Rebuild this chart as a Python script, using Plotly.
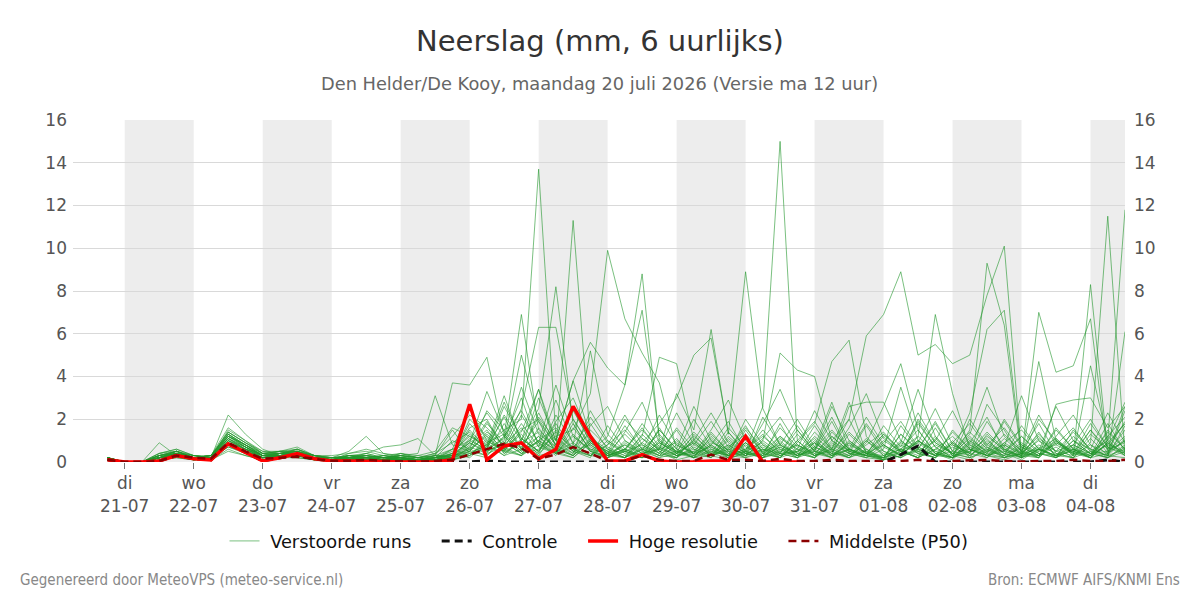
import pandas as pd
import plotly.graph_objects as go

# ---------------- data ----------------
times = pd.date_range("2026-07-20 18:00", periods=60, freq="6h")

tick_dates = ["2026-07-21", "2026-07-22", "2026-07-23", "2026-07-24", "2026-07-25",
              "2026-07-26", "2026-07-27", "2026-07-28", "2026-07-29", "2026-07-30",
              "2026-07-31", "2026-08-01", "2026-08-02", "2026-08-03", "2026-08-04"]
tick_labels = ["di<br>21-07", "wo<br>22-07", "do<br>23-07", "vr<br>24-07", "za<br>25-07",
               "zo<br>26-07", "ma<br>27-07", "di<br>28-07", "wo<br>29-07", "do<br>30-07",
               "vr<br>31-07", "za<br>01-08", "zo<br>02-08", "ma<br>03-08", "di<br>04-08"]
shaded_days = ["2026-07-21", "2026-07-23", "2026-07-25", "2026-07-27",
               "2026-07-29", "2026-07-31", "2026-08-02", "2026-08-04"]
y_ticks = [0, 2, 4, 6, 8, 10, 12, 14, 16]

hres = [0.1, 0.0, 0.0, 0.05, 0.3, 0.15, 0.1, 0.85, 0.45, 0.05, 0.2, 0.4, 0.15, 0.05, 0.05, 0.05, 0.02, 0.0, 0.0, 0.0,
        0.1, 2.7, 0.1, 0.75, 0.9, 0.15, 0.6, 2.6, 1.2, 0.05, 0.05, 0.35, 0.05, 0.0, 0.0, 0.05, 0.05, 1.2, 0.0, 0.0,
        0.0]

p50 = [0.1, 0.0, 0.0, 0.05, 0.3, 0.2, 0.15, 0.9, 0.5, 0.15, 0.2, 0.25, 0.15, 0.05, 0.05, 0.1, 0.05, 0.02, 0.02, 0.05,
       0.1, 0.35, 0.6, 0.85, 0.65, 0.15, 0.35, 0.7, 0.4, 0.05, 0.05, 0.3, 0.1, 0.05, 0.05, 0.35, 0.1, 0.1, 0.05, 0.15,
       0.05, 0.05, 0.1, 0.05, 0.05, 0.02, 0.05, 0.1, 0.02, 0.05, 0.05, 0.1, 0.05, 0.02, 0.05, 0.05, 0.1, 0.05, 0.05, 0.1]

controle = [0.1, 0.0, 0.0, 0.05, 0.3, 0.15, 0.1, 0.85, 0.45, 0.05, 0.2, 0.3, 0.15, 0.05, 0.05, 0.05, 0.02, 0.0, 0.0, 0.0,
            0.0, 0.0, 0.05, 0.0, 0.0, 0.0, 0.0, 0.0, 0.0, 0.0, 0.0, 0.0, 0.0, 0.0, 0.0, 0.0, 0.0, 0.0, 0.0, 0.0,
            0.0, 0.0, 0.0, 0.0, 0.0, 0.0, 0.35, 0.75, 0.0, 0.0, 0.0, 0.0, 0.0, 0.0, 0.0, 0.0, 0.0, 0.0, 0.1, 0.0]

m01 = [0.2, 0.0, 0.0, 0.2, 0.4, 0.2, 0.2, 1.1, 0.7, 0.3, 0.3, 0.5, 0.2, 0.1, 0.2, 0.1, 0.1, 0.1, 0.0, 0.2,
       0.5, 1.2, 0.8, 1.5, 2.0, 13.7, 1.2, 0.5, 0.3, 0.8, 1.5, 0.6, 0.2, 0.4, 1.0, 0.3, 0.1, 0.5, 0.2, 0.6,
       0.3, 1.0, 0.4, 0.2, 0.5, 0.1, 0.3, 1.0, 0.5, 0.2, 0.8, 0.3, 0.1, 0.4, 1.2, 0.3, 0.6, 0.2, 0.9, 0.4]
m02 = [0.1, 0.0, 0.0, 0.3, 0.5, 0.2, 0.3, 1.3, 0.8, 0.4, 0.4, 0.6, 0.3, 0.2, 0.1, 0.3, 0.2, 0.1, 0.1, 0.3,
       0.2, 0.8, 1.5, 0.4, 1.0, 3.4, 0.6, 11.3, 1.0, 0.3, 0.2, 1.3, 0.5, 0.1, 0.3, 0.8, 0.2, 1.5, 0.4, 0.2,
       1.0, 0.3, 0.6, 2.8, 0.4, 0.1, 0.5, 0.2, 1.6, 0.3, 0.1, 0.7, 0.2, 0.5, 1.8, 0.4, 0.2, 1.1, 0.3, 0.6]
m03 = [0.2, 0.0, 0.0, 0.1, 0.3, 0.1, 0.2, 0.8, 0.5, 0.2, 0.3, 0.4, 0.2, 0.1, 0.2, 0.2, 0.1, 0.2, 0.1, 0.1,
       0.3, 0.5, 1.8, 0.9, 0.4, 0.6, 1.2, 1.5, 3.2, 9.9, 6.7, 5.1, 3.7, 0.6, 0.2, 1.2, 0.4, 0.3, 0.8, 0.2,
       1.3, 0.5, 0.2, 0.9, 0.3, 0.1, 1.7, 0.6, 0.3, 1.0, 0.2, 0.5, 0.8, 0.3, 1.4, 0.2, 0.6, 0.4, 1.0, 0.3]
m04 = [0.1, 0.0, 0.0, 0.2, 0.3, 0.2, 0.1, 0.9, 0.6, 0.2, 0.4, 0.3, 0.1, 0.1, 0.3, 0.2, 0.3, 0.2, 0.0, 0.0,
       0.1, 0.3, 0.7, 2.1, 0.6, 0.9, 0.4, 1.8, 0.5, 1.2, 3.6, 8.8, 1.0, 0.3, 0.6, 0.2, 1.4, 0.5, 0.3, 0.7,
       0.2, 0.5, 1.9, 0.4, 0.2, 0.6, 3.5, 1.0, 0.3, 0.8, 0.4, 2.7, 1.5, 0.2, 0.6, 1.1, 0.3, 1.5, 0.4, 2.6]
m05 = [0.2, 0.0, 0.0, 0.4, 0.6, 0.3, 0.2, 1.5, 1.0, 0.4, 0.5, 0.5, 0.3, 0.2, 0.2, 0.4, 0.2, 0.3, 0.2, 0.1,
       0.4, 0.2, 0.9, 1.3, 0.5, 2.3, 0.8, 0.3, 1.1, 0.6, 0.2, 0.9, 0.4, 1.5, 0.3, 0.8, 1.9, 0.5, 2.6, 15.0,
       1.0, 0.3, 0.6, 2.0, 0.4, 0.2, 1.3, 0.5, 0.2, 0.9, 0.3, 1.0, 0.4, 0.1, 0.6, 0.3, 1.2, 0.5, 0.2, 0.8]
m06 = [0.1, 0.0, 0.0, 0.2, 0.4, 0.2, 0.3, 1.2, 0.7, 0.3, 0.3, 0.4, 0.2, 0.1, 0.1, 0.2, 0.1, 0.4, 0.2, 0.1,
       0.2, 1.1, 0.5, 0.8, 1.6, 0.4, 2.2, 0.9, 0.3, 0.2, 1.0, 0.4, 0.6, 3.2, 1.5, 6.2, 1.3, 8.9, 2.5, 0.8,
       0.4, 1.7, 0.5, 0.2, 1.0, 0.3, 0.6, 1.2, 0.4, 0.1, 0.9, 2.1, 0.5, 0.3, 0.7, 0.2, 1.5, 0.6, 0.3, 1.1]
m07 = [0.2, 0.0, 0.0, 0.3, 0.5, 0.2, 0.2, 1.0, 0.6, 0.3, 0.4, 0.5, 0.2, 0.1, 0.2, 0.1, 0.2, 0.1, 0.1, 0.2,
       0.1, 0.4, 0.2, 0.6, 1.3, 0.3, 0.5, 0.2, 0.9, 0.4, 0.2, 0.7, 0.3, 1.1, 0.2, 0.5, 0.3, 0.8, 0.2, 0.4,
       0.5, 0.2, 1.0, 2.0, 5.9, 6.9, 8.9, 5.0, 5.5, 4.6, 5.0, 7.8, 10.1, 0.3, 2.0, 1.0, 0.4, 0.2, 1.5, 0.6]
m08 = [0.1, 0.0, 0.0, 0.2, 0.3, 0.1, 0.2, 0.7, 0.4, 0.2, 0.2, 0.3, 0.1, 0.0, 0.1, 0.1, 0.1, 0.2, 0.0, 0.1,
       0.2, 0.6, 0.3, 1.0, 5.0, 1.9, 0.4, 0.8, 5.2, 1.3, 0.5, 0.2, 1.6, 0.4, 0.9, 0.3, 1.2, 0.5, 0.2, 1.0,
       0.3, 0.7, 2.8, 0.6, 0.3, 0.1, 0.9, 3.4, 1.2, 0.3, 1.5, 9.3, 6.4, 0.2, 4.7, 1.0, 0.3, 4.5, 1.0, 2.8]
m09 = [0.2, 0.0, 0.0, 0.2, 0.4, 0.3, 0.2, 1.4, 0.9, 0.5, 0.4, 0.6, 0.3, 0.2, 0.3, 0.3, 0.2, 0.2, 0.1, 0.3,
       0.3, 1.5, 0.6, 2.2, 1.0, 2.5, 8.2, 1.8, 0.5, 0.2, 0.9, 0.4, 1.5, 0.6, 0.2, 0.3, 1.0, 0.4, 0.2, 0.8,
       0.3, 1.2, 0.5, 0.2, 0.6, 0.1, 0.3, 1.8, 0.7, 0.2, 0.5, 1.4, 0.6, 0.2, 7.0, 4.2, 4.5, 6.7, 0.3, 2.4]
m10 = [0.1, 0.0, 0.0, 0.1, 0.2, 0.1, 0.1, 0.6, 0.3, 0.1, 0.3, 0.2, 0.1, 0.1, 0.2, 0.1, 0.1, 0.1, 0.0, 0.1,
       0.6, 1.0, 2.3, 1.2, 6.9, 1.5, 0.7, 0.3, 1.0, 0.5, 0.2, 1.1, 0.4, 0.2, 0.7, 0.3, 0.5, 1.6, 0.6, 0.3,
       0.8, 0.4, 0.2, 1.3, 0.5, 0.2, 0.6, 1.5, 0.4, 0.2, 1.0, 0.3, 0.6, 0.2, 0.8, 0.4, 0.2, 0.9, 11.5, 0.3]
m11 = [0.2, 0.0, 0.0, 0.3, 0.4, 0.2, 0.3, 1.2, 0.8, 0.3, 0.5, 0.4, 0.3, 0.1, 0.2, 0.3, 0.1, 0.1, 0.2, 0.3,
       3.7, 3.6, 4.9, 1.2, 0.5, 1.0, 0.4, 0.7, 1.3, 0.3, 0.6, 0.2, 0.8, 0.3, 0.4, 1.1, 0.3, 0.2, 0.6, 0.4,
       0.2, 0.9, 0.3, 0.6, 0.2, 0.1, 0.8, 0.4, 1.2, 0.3, 0.5, 1.1, 0.2, 0.4, 0.3, 0.7, 0.2, 0.5, 1.0, 11.8]
m12 = [0.1, 0.0, 0.0, 0.2, 0.3, 0.2, 0.1, 0.9, 0.5, 0.2, 0.3, 0.3, 0.2, 0.1, 0.1, 0.2, 0.3, 0.2, 0.1, 0.0,
       0.1, 0.5, 1.4, 0.8, 2.5, 6.3, 6.3, 2.0, 0.8, 0.3, 0.6, 1.6, 0.5, 0.2, 1.3, 0.4, 0.2, 0.9, 0.3, 1.8,
       0.4, 0.2, 1.2, 0.5, 0.3, 0.2, 1.0, 0.4, 0.2, 0.7, 0.3, 0.8, 1.6, 0.5, 0.2, 1.0, 0.3, 8.3, 0.5, 1.2]
m13 = [0.2, 0.0, 0.0, 0.2, 0.5, 0.3, 0.2, 1.3, 0.8, 0.3, 0.4, 0.5, 0.2, 0.2, 0.2, 0.2, 0.1, 0.3, 0.1, 0.2,
       0.2, 0.7, 0.4, 1.8, 0.6, 3.0, 1.0, 3.8, 5.6, 4.4, 3.6, 7.1, 1.2, 0.5, 0.2, 0.8, 0.3, 0.6, 1.2, 0.5,
       0.3, 1.4, 0.6, 0.2, 0.9, 2.6, 4.6, 1.5, 0.4, 0.2, 1.0, 0.5, 0.3, 1.7, 0.6, 0.2, 0.8, 0.4, 0.2, 6.1]
m14 = [0.1, 0.0, 0.0, 0.3, 0.4, 0.1, 0.2, 1.1, 0.6, 0.4, 0.3, 0.4, 0.2, 0.1, 0.4, 0.5, 0.3, 0.4, 0.3, 0.2,
       0.3, 0.9, 0.5, 1.2, 0.4, 1.0, 0.6, 0.3, 1.5, 0.7, 0.3, 0.9, 1.8, 3.0, 5.0, 5.8, 1.4, 0.4, 0.2, 1.1,
       0.6, 0.3, 0.8, 0.4, 1.7, 0.5, 0.2, 1.2, 6.9, 3.2, 0.6, 0.3, 1.1, 0.4, 0.2, 0.9, 0.5, 0.3, 1.4, 0.6]
m15 = [0.2, 0.0, 0.0, 0.2, 0.3, 0.2, 0.3, 1.0, 0.6, 0.2, 0.3, 0.6, 0.3, 0.1, 0.1, 0.2, 0.2, 0.1, 0.1, 0.1,
       0.2, 0.4, 0.8, 0.3, 1.1, 0.5, 1.4, 0.6, 0.3, 1.0, 0.4, 1.2, 4.9, 4.6, 1.0, 0.4, 0.8, 0.3, 0.6, 0.2,
       0.9, 1.8, 4.7, 5.7, 1.2, 0.3, 0.6, 0.2, 0.8, 0.4, 0.2, 1.3, 0.5, 0.2, 0.6, 0.3, 1.0, 0.4, 0.2, 0.7]
m16 = [0.1, 0.0, 0.0, 0.1, 0.3, 0.2, 0.2, 0.8, 0.5, 0.3, 0.2, 0.3, 0.1, 0.1, 0.2, 0.1, 0.2, 0.2, 0.1, 0.1,
       0.1, 0.3, 1.0, 0.5, 0.3, 0.8, 0.4, 1.2, 0.6, 0.2, 0.5, 0.3, 0.9, 0.4, 0.2, 1.4, 0.5, 0.3, 1.0, 5.1,
       4.3, 4.0, 1.0, 0.4, 0.2, 0.8, 0.3, 0.6, 1.9, 0.5, 2.3, 6.2, 7.1, 0.4, 0.3, 1.5, 0.6, 0.2, 0.9, 1.8]
m17 = [0.2, 0.0, 0.0, 0.2, 0.4, 0.2, 0.2, 1.2, 0.7, 0.2, 0.4, 0.4, 0.2, 0.1, 0.3, 0.2, 0.1, 0.2, 0.1, 0.2,
       0.4, 1.6, 2.0, 0.6, 1.4, 3.4, 1.0, 3.8, 1.2, 0.4, 0.2, 0.6, 1.3, 0.4, 0.9, 0.3, 0.6, 1.7, 0.4, 0.2,
       0.5, 1.1, 0.3, 2.6, 2.8, 2.8, 1.0, 0.4, 0.2, 0.9, 0.4, 1.2, 0.6, 0.3, 0.2, 2.7, 2.9, 3.0, 1.6, 2.6]
m18 = [0.1, 0.0, 0.0, 0.4, 0.6, 0.3, 0.3, 1.6, 1.0, 0.5, 0.5, 0.7, 0.3, 0.3, 0.4, 0.6, 0.4, 0.3, 0.4, 3.1,
       0.8, 0.5, 1.3, 0.6, 2.2, 0.9, 0.3, 1.6, 0.6, 0.4, 1.3, 0.5, 0.2, 0.8, 0.4, 1.0, 0.3, 0.5, 1.5, 0.6,
       0.2, 0.9, 0.4, 0.3, 1.1, 0.5, 0.2, 0.7, 0.3, 1.4, 0.6, 0.2, 0.8, 0.4, 1.0, 0.3, 0.5, 0.2, 1.2, 0.4]
m19 = [0.2, 0.0, 0.0, 0.9, 0.3, 0.1, 0.2, 2.2, 1.3, 0.6, 0.3, 0.4, 0.3, 0.2, 0.5, 1.2, 0.4, 0.2, 0.3, 0.5,
       1.6, 1.2, 0.7, 2.8, 1.1, 0.5, 1.8, 0.6, 2.1, 0.9, 0.4, 0.2, 1.0, 0.5, 0.3, 0.9, 0.6, 0.4, 1.8, 3.4,
       1.5, 0.5, 0.3, 0.8, 0.4, 0.2, 1.3, 0.6, 0.3, 0.9, 1.8, 0.7, 0.3, 0.6, 0.2, 1.1, 0.4, 0.3, 0.8, 0.5]
m20 = [0.1, 0.0, 0.0, 0.2, 0.5, 0.2, 0.3, 1.4, 0.9, 0.4, 0.5, 0.6, 0.2, 0.1, 0.3, 0.4, 0.7, 0.8, 1.1, 0.3,
       0.2, 2.0, 1.2, 0.4, 0.9, 0.3, 1.5, 0.5, 0.2, 1.7, 0.6, 0.3, 1.1, 0.4, 2.0, 0.7, 0.3, 0.6, 1.3, 0.4,
       1.7, 0.6, 2.1, 0.5, 0.3, 1.2, 0.4, 1.9, 0.7, 0.2, 0.9, 0.4, 1.3, 0.5, 0.3, 1.6, 0.6, 0.2, 0.4, 1.0]
m21 = [0.2, 0.0, 0.0, 0.1, 0.2, 0.1, 0.1, 0.5, 0.3, 0.1, 0.2, 0.2, 0.1, 0.1, 0.1, 0.1, 0.1, 0.1, 0.0, 0.1,
       0.3, 1.8, 0.9, 0.3, 0.6, 1.2, 0.4, 0.2, 0.9, 0.5, 0.2, 0.6, 0.3, 1.0, 0.4, 0.2, 0.8, 0.3, 0.5, 1.2,
       0.4, 0.2, 0.7, 0.3, 1.0, 0.4, 0.2, 0.6, 1.8, 0.5, 0.3, 0.9, 0.4, 0.2, 1.1, 0.5, 0.3, 0.8, 0.2, 0.5]
m22 = [0.1, 0.0, 0.0, 0.3, 0.5, 0.3, 0.2, 1.2, 0.8, 0.3, 0.4, 0.5, 0.2, 0.2, 0.2, 0.3, 0.2, 0.3, 0.2, 0.2,
       1.0, 0.6, 2.4, 1.5, 0.7, 1.9, 0.8, 2.5, 0.9, 0.3, 0.8, 0.4, 0.6, 0.2, 1.1, 0.3, 0.6, 0.2, 0.4, 0.9,
       0.3, 0.6, 0.2, 1.0, 0.4, 0.3, 0.9, 0.5, 0.2, 1.5, 0.6, 0.3, 0.7, 0.2, 0.5, 0.8, 1.6, 0.5, 0.3, 1.7]
m23 = [0.2, 0.0, 0.0, 0.2, 0.4, 0.2, 0.2, 1.0, 0.6, 0.3, 0.3, 0.4, 0.2, 0.1, 0.2, 0.2, 0.1, 0.2, 0.1, 0.3,
       1.5, 0.4, 0.8, 3.1, 0.9, 1.4, 0.6, 0.3, 1.0, 0.4, 1.7, 0.6, 0.3, 0.2, 0.8, 1.9, 0.7, 0.3, 1.0, 0.4,
       0.2, 0.7, 0.3, 0.9, 0.4, 1.3, 0.5, 0.2, 0.6, 0.3, 1.2, 0.4, 0.2, 0.7, 0.3, 1.0, 0.5, 0.2, 0.9, 0.3]
m24 = [0.1, 0.0, 0.0, 0.2, 0.3, 0.2, 0.2, 0.9, 0.5, 0.2, 0.3, 0.3, 0.2, 0.1, 0.1, 0.1, 0.1, 0.1, 0.1, 0.2,
       0.6, 2.5, 1.0, 0.5, 1.8, 0.7, 2.9, 0.8, 0.4, 0.2, 0.6, 0.3, 0.9, 0.5, 0.2, 0.6, 0.3, 0.9, 0.2, 0.5,
       0.8, 0.3, 0.5, 1.4, 0.6, 0.2, 0.4, 0.9, 0.3, 0.2, 0.7, 0.3, 0.5, 1.2, 0.4, 0.2, 0.6, 0.3, 1.8, 0.5]
m25 = [0.2, 0.0, 0.0, 0.3, 0.4, 0.2, 0.2, 1.3, 0.7, 0.3, 0.4, 0.4, 0.2, 0.2, 0.3, 0.2, 0.2, 0.4, 0.2, 0.1,
       0.4, 1.3, 0.6, 1.1, 3.0, 0.7, 0.4, 1.3, 0.5, 0.2, 0.5, 0.8, 0.3, 0.5, 1.4, 0.6, 0.2, 0.4, 0.7, 0.3,
       0.6, 0.2, 0.9, 0.4, 0.3, 1.0, 0.5, 0.2, 1.1, 0.4, 0.2, 0.6, 0.3, 0.9, 0.4, 0.2, 1.0, 0.6, 0.3, 0.2]
m26 = [0.1, 0.0, 0.0, 0.2, 0.3, 0.1, 0.2, 0.7, 0.5, 0.2, 0.3, 0.3, 0.1, 0.1, 0.2, 0.1, 0.1, 0.2, 0.1, 0.1,
       0.2, 0.9, 0.4, 0.7, 0.3, 1.6, 0.5, 0.9, 1.8, 0.6, 0.3, 0.2, 0.7, 0.3, 0.5, 0.2, 1.1, 0.4, 0.3, 0.7,
       0.3, 0.5, 0.2, 0.6, 0.3, 0.2, 0.5, 1.0, 0.4, 0.2, 0.6, 0.3, 0.2, 0.8, 0.4, 0.3, 0.2, 1.3, 0.6, 0.9]
m27 = [0.2, 0.0, 0.0, 0.3, 0.5, 0.2, 0.3, 1.4, 0.9, 0.4, 0.4, 0.5, 0.3, 0.1, 0.3, 0.3, 0.2, 0.3, 0.2, 0.4,
       1.2, 2.2, 1.6, 0.8, 3.5, 1.3, 0.7, 2.4, 1.0, 0.5, 2.0, 1.1, 0.6, 2.3, 0.8, 0.4, 1.6, 0.7, 0.3, 1.2,
       0.6, 2.4, 1.0, 0.5, 1.8, 0.7, 0.3, 2.0, 0.9, 0.4, 1.3, 3.5, 1.2, 0.5, 2.2, 0.8, 0.4, 1.5, 0.6, 1.9]
m28 = [0.1, 0.0, 0.0, 0.2, 0.4, 0.2, 0.2, 1.1, 0.7, 0.3, 0.3, 0.4, 0.2, 0.2, 0.2, 0.2, 0.3, 0.2, 0.1, 0.2,
       0.4, 0.9, 3.3, 1.4, 0.6, 2.1, 1.0, 0.4, 1.7, 2.6, 1.0, 0.5, 2.2, 0.8, 0.4, 1.5, 2.9, 1.0, 0.5, 0.8,
       2.0, 0.7, 0.4, 1.6, 3.2, 1.1, 0.5, 0.9, 2.5, 0.8, 0.4, 1.9, 0.7, 3.1, 1.0, 0.5, 1.4, 0.6, 2.3, 0.9]
m29 = [0.2, 0.0, 0.0, 0.2, 0.3, 0.1, 0.2, 0.9, 0.6, 0.2, 0.3, 0.3, 0.1, 0.1, 0.1, 0.2, 0.1, 0.1, 0.1, 0.1,
       0.2, 0.5, 0.3, 1.2, 2.4, 0.9, 3.6, 1.2, 0.5, 0.3, 1.4, 2.8, 0.9, 0.4, 1.2, 0.5, 0.3, 2.0, 0.8, 0.4,
       1.5, 0.5, 2.6, 1.0, 0.4, 1.3, 0.6, 0.3, 1.0, 2.4, 0.8, 0.4, 1.9, 0.7, 0.3, 1.2, 2.2, 0.8, 0.4, 1.5]
m30 = [0.1, 0.0, 0.0, 0.3, 0.4, 0.3, 0.2, 1.2, 0.8, 0.3, 0.4, 0.4, 0.2, 0.2, 0.3, 0.2, 0.2, 0.2, 0.1, 0.2,
       0.3, 1.0, 0.6, 2.6, 1.1, 0.5, 1.9, 3.0, 1.1, 0.4, 0.8, 0.3, 1.5, 0.6, 2.6, 1.0, 0.4, 0.9, 0.4, 1.6,
       0.7, 0.3, 1.4, 0.6, 2.1, 0.8, 0.3, 1.0, 0.5, 0.2, 2.0, 0.8, 0.4, 1.2, 0.5, 2.6, 1.0, 0.4, 0.8, 1.8]
m31 = [0.2, 0.0, 0.0, 0.2, 0.5, 0.2, 0.3, 1.3, 0.8, 0.4, 0.5, 0.5, 0.3, 0.2, 0.2, 0.4, 0.2, 0.2, 0.2, 0.3,
       0.6, 0.3, 1.1, 0.5, 1.5, 2.0, 0.8, 0.4, 2.4, 1.0, 0.5, 1.8, 0.7, 0.3, 1.0, 2.3, 0.9, 0.4, 1.1, 2.1,
       0.8, 0.4, 1.2, 0.5, 0.3, 1.7, 0.7, 2.3, 0.9, 0.4, 1.1, 0.5, 2.0, 0.8, 0.3, 0.9, 0.4, 1.8, 0.7, 0.3]
m32 = [0.1, 0.0, 0.0, 0.2, 0.3, 0.2, 0.1, 0.8, 0.5, 0.2, 0.2, 0.3, 0.2, 0.1, 0.2, 0.1, 0.1, 0.2, 0.1, 0.1,
       0.1, 0.7, 1.9, 0.6, 0.3, 1.0, 1.6, 0.6, 0.3, 0.8, 2.2, 0.8, 0.4, 1.6, 0.6, 0.3, 0.7, 1.3, 0.5, 0.2,
       1.0, 1.9, 0.6, 0.3, 0.8, 1.4, 0.5, 0.2, 0.6, 1.2, 0.4, 0.2, 0.9, 1.5, 0.6, 0.3, 0.7, 0.3, 1.2, 2.1]
m33 = [0.2, 0.0, 0.0, 0.4, 0.5, 0.2, 0.2, 1.0, 0.7, 0.3, 0.3, 0.4, 0.2, 0.1, 0.2, 0.3, 0.2, 0.3, 0.2, 0.4,
       0.9, 1.4, 0.5, 0.9, 0.4, 1.2, 0.5, 2.0, 0.7, 0.3, 0.6, 1.5, 0.6, 0.3, 0.5, 1.3, 0.5, 0.2, 2.1, 0.8,
       0.3, 0.6, 1.5, 0.6, 0.3, 0.9, 1.9, 0.7, 0.3, 0.5, 1.4, 0.6, 0.2, 0.4, 1.3, 0.5, 0.8, 2.0, 0.7, 0.4]
m34 = [0.1, 0.0, 0.0, 0.2, 0.4, 0.2, 0.2, 1.1, 0.6, 0.3, 0.4, 0.4, 0.2, 0.1, 0.2, 0.2, 0.1, 0.1, 0.1, 0.2,
       0.3, 0.6, 1.2, 0.5, 0.9, 0.4, 1.1, 0.5, 0.8, 0.3, 0.5, 0.2, 0.6, 0.9, 0.4, 0.7, 0.3, 0.5, 0.9, 0.3,
       0.5, 0.9, 0.3, 0.6, 0.4, 0.8, 0.3, 0.5, 1.0, 0.4, 0.6, 0.3, 0.9, 0.4, 0.6, 0.3, 0.8, 0.4, 0.5, 1.0]

members = [m01, m02, m03, m04, m05, m06, m07, m08, m09, m10, m11, m12, m13, m14, m15, m16, m17,
           m18, m19, m20, m21, m22, m23, m24, m25, m26, m27, m28, m29, m30, m31, m32, m33, m34]

legend_names = ["Verstoorde runs", "Controle", "Hoge resolutie", "Middelste (P50)"]

# ---------------- figure ----------------
FONT = "DejaVu Sans"
FOOT_FONT = "DejaVu Sans Condensed, DejaVu Sans"
LEAD = "\u00a0"
PAD = "\u00a0" * 3 + "\u2009"
DASH = "8px,5px"
fig = go.Figure()

for k, m in enumerate(members):
    fig.add_trace(go.Scatter(
        x=times, y=m, mode="lines",
        line=dict(color="rgba(34,150,44,0.6)", width=1),
        name=LEAD + legend_names[0] + PAD, legendgroup="ens",
        showlegend=(k == 0), hoverinfo="skip"))

fig.add_trace(go.Scatter(x=times, y=controle, mode="lines", name=LEAD + legend_names[1] + PAD,
                         line=dict(color="#111111", width=3, dash=DASH)))
fig.add_trace(go.Scatter(x=times[:len(hres)], y=hres, mode="lines", name=LEAD + legend_names[2] + PAD,
                         line=dict(color="#ff0000", width=3.5)))
fig.add_trace(go.Scatter(x=times, y=p50, mode="lines", name=LEAD + legend_names[3],
                         line=dict(color="#8b0000", width=2.5, dash=DASH)))
# invisible trace so the right axis is drawn
fig.add_trace(go.Scatter(x=[times[0]], y=[0], yaxis="y2", mode="lines",
                         showlegend=False, hoverinfo="skip", opacity=0))

x_start = pd.Timestamp("2026-07-20 06:00")
x_end = pd.Timestamp("2026-08-04 12:00")

shapes = []
for d in shaded_days:
    s = pd.Timestamp(d)
    e = min(s + pd.Timedelta(days=1), x_end)
    shapes.append(dict(type="rect", xref="x", yref="paper", x0=s, x1=e, y0=0, y1=1,
                       fillcolor="#ededed", line=dict(width=0), layer="below"))

fig.update_layout(
    width=1200, height=600,
    margin=dict(l=73, r=75, t=120, b=138),
    paper_bgcolor="white", plot_bgcolor="white",
    font=dict(family=FONT, size=17, color="#555555"),
    title=dict(text="Neerslag (mm, 6 uurlijks)", x=0.5, xanchor="center",
               y=1 - 41 / 600, yanchor="middle", yref="container",
               font=dict(family=FONT, size=29, color="#333333")),
    shapes=shapes,
    xaxis=dict(type="date", range=[x_start, x_end], tickvals=[pd.Timestamp(t) for t in tick_dates],
               ticktext=tick_labels, showgrid=False, zeroline=False, ticks="outside",
               ticklen=6, tickcolor="#777777", tickfont=dict(size=17, color="#555555"),
               showline=False),
    yaxis=dict(range=[0, 16], tickvals=y_ticks, showgrid=True, gridcolor="#d9d9d9",
               gridwidth=1, zeroline=False, tickfont=dict(size=17, color="#555555"),
               ticklabelstandoff=5),
    yaxis2=dict(range=[0, 16], tickvals=y_ticks, overlaying="y", side="right",
                showgrid=False, zeroline=False, tickfont=dict(size=17, color="#555555"),
                ticklabelstandoff=8),
    legend=dict(orientation="h", x=0.5, xanchor="center", y=-0.232, yanchor="middle",
                font=dict(size=17.8, color="#111111"), bgcolor="rgba(0,0,0,0)",
                tracegroupgap=0),
    showlegend=True,
    annotations=[
        dict(text="Den Helder/De Kooy, maandag 20 juli 2026 (Versie ma 12 uur)",
             xref="paper", yref="paper", x=0.5, y=(462 - 83) / 342, xanchor="center",
             yanchor="middle", showarrow=False, font=dict(family=FONT, size=17.8, color="#666666")),
        dict(text="Gegenereerd door MeteoVPS (meteo-service.nl)", xref="paper", yref="paper",
             x=(18 - 73) / 1052, y=(462 - 580) / 342, xanchor="left", yanchor="middle",
             showarrow=False, font=dict(family=FOOT_FONT, size=15, color="#888888")),
        dict(text="Bron: ECMWF AIFS/KNMI Ens", xref="paper", yref="paper",
             x=(1182 - 73) / 1052, y=(462 - 580) / 342, xanchor="right", yanchor="middle",
             showarrow=False, font=dict(family=FOOT_FONT, size=15, color="#888888")),
    ],
)

fig.write_html("out.html")
